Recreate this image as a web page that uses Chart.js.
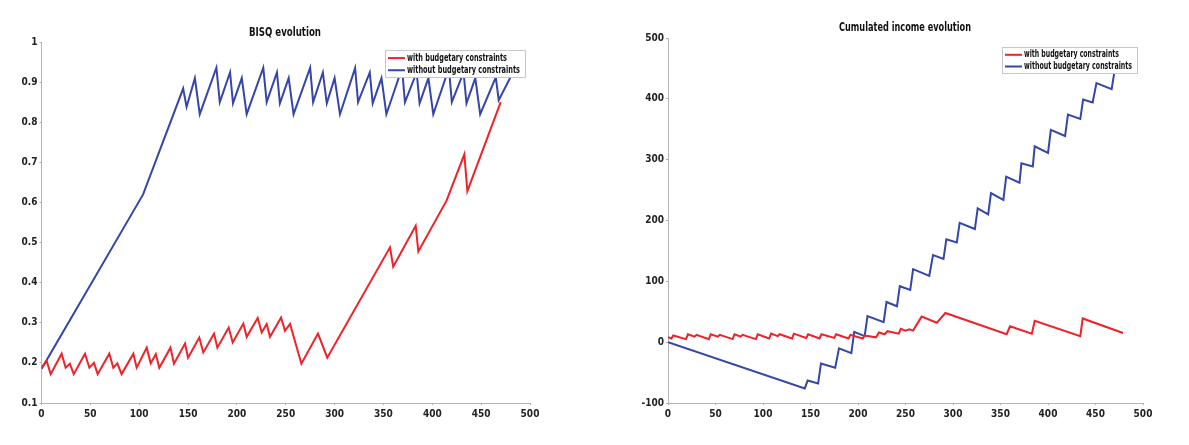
<!DOCTYPE html>
<html>
<head>
<meta charset="utf-8">
<script src="https://cdn.jsdelivr.net/npm/chart.js@4.4.1/dist/chart.umd.min.js"></script>
<style>
    html, body { margin: 0; padding: 0; background: #fff; }
    #wrap { position: relative; width: 1189px; height: 445px; overflow: hidden; }
    canvas { position: absolute; top: 0; }
    #bisq { left: 0; }
    #income { left: 600px; }
</style>
</head>
<body>
<div id="wrap">
    <canvas id="bisq" width="560" height="445"></canvas>
    <canvas id="income" width="589" height="445"></canvas>
</div>
<script>
// etiquetas
const seriesNames = ['with budgetary constraints', 'without budgetary constraints'];
const xTicks = [0, 50, 100, 150, 200, 250, 300, 350, 400, 450, 500];
const bisqTicks = [0.1, 0.2, 0.3, 0.4, 0.5, 0.6, 0.7, 0.8, 0.9, 1];
const incomeTicks = [-100, 0, 100, 200, 300, 400, 500];

// BISQ, con restricciones (rojo)
const bisqWithT = [0, 5.3, 9.4, 20.6, 24.7, 29, 33, 44.5, 49, 53.7, 57.5, 69.4, 73.5, 77.6, 82, 94, 97.4,
    107.7, 111.8, 117, 120.6, 132, 135.6, 146.9, 150, 161.5, 165.6, 176.6, 180, 191.6, 195.7, 206.6, 210,
    221.3, 225.4, 230.5, 233.9, 245.2, 249.2, 254.4, 266, 283, 292.5, 356.7, 360, 383, 385.7, 414.7, 432.8, 435.9, 470];
const bisqWithV = [0.188, 0.205, 0.172, 0.223, 0.188, 0.198, 0.172, 0.223, 0.188, 0.2, 0.172, 0.223, 0.188, 0.199, 0.172, 0.223, 0.188,
    0.238, 0.199, 0.222, 0.188, 0.238, 0.198, 0.248, 0.213, 0.263, 0.226, 0.273, 0.238, 0.288, 0.251, 0.298, 0.265,
    0.312, 0.276, 0.297, 0.265, 0.313, 0.28, 0.297, 0.198, 0.273, 0.213, 0.488, 0.44, 0.542, 0.478, 0.605, 0.72, 0.628, 0.85];

// BISQ, sin restricciones (azul)
const bisqWithoutT = [0, 104, 145, 148.5, 157, 162, 179, 182.5, 193, 196, 205, 210, 227, 230.5, 241, 244, 253, 258,
    275, 278, 288, 292, 300, 305.5, 321, 324, 336, 339, 348, 353, 369, 372, 384, 387, 396, 401,
    417, 420, 432, 435, 444, 449, 465, 468, 480];
const bisqWithoutV = [0.185, 0.62, 0.884, 0.838, 0.91, 0.82, 0.936, 0.85, 0.924, 0.847, 0.91, 0.82, 0.936, 0.85, 0.924, 0.847, 0.91, 0.82,
    0.936, 0.85, 0.924, 0.847, 0.91, 0.82, 0.935, 0.85, 0.924, 0.847, 0.91, 0.82, 0.935, 0.85, 0.924, 0.847, 0.91, 0.82,
    0.935, 0.85, 0.924, 0.847, 0.91, 0.82, 0.912, 0.855, 0.912];

// ingreso acumulado, con restricciones (rojo)
const incomeWithT = [0, 3.5, 5.5, 19, 21, 28, 30, 43, 45, 52.5, 54.5, 68, 70, 76.5, 78.5, 92.5, 94.5, 106.5, 108.5,
    115.5, 117.5, 130.5, 132.5, 145.5, 147.5, 159.5, 161.5, 175, 177, 190, 192, 205, 207, 219, 222, 228, 231,
    243, 245, 250, 254, 258, 267, 283, 292, 356.5, 360, 383, 386, 434, 436.5, 479];
const incomeWithV = [8, 6, 11, 5, 13, 9, 12, 5, 13, 9, 12, 5, 13, 9, 12, 5, 13, 6, 14,
    10, 13, 6, 14, 7, 13, 6, 13, 7, 13, 6, 12, 6, 11, 8, 16, 13, 18,
    14, 22, 19, 21, 19, 42, 32, 48, 13, 26, 14, 35, 10, 39, 15];

// ingreso acumulado, sin restricciones (azul)
const incomeWithoutT = [0, 144, 147, 158, 161, 176, 180, 193, 196, 207, 210, 227, 230, 241, 244, 255, 258, 275, 279, 290, 293,
    304, 307, 323, 326, 337, 340, 353, 356, 370, 372, 384, 386, 400, 403, 418, 421, 434, 437, 447, 451, 467, 470, 473];
const incomeWithoutV = [0, -76, -63, -68, -35, -42, -10, -18, 17, 10, 43, 33, 66, 59, 92, 86, 120, 109, 143, 137, 169,
    164, 196, 186, 220, 210, 245, 234, 272, 262, 294, 289, 322, 311, 349, 339, 374, 367, 399, 394, 426, 416, 445, 462];

const RED = '#ee2228';
const BLUE = '#3546a8';
const FONT_FAMILY = '"Liberation Sans Narrow", "DejaVu Sans Condensed", "Liberation Sans", sans-serif';

const pts = (t, v) => t.map((x, i) => ({ x: x, y: v[i] }));

// título y leyenda estilo matlab, dibujados encima de las líneas
const decorPlugin = {
    id: 'decor',
    afterDraw(chart, args, opts) {
        const ctx = chart.ctx;
        ctx.save();
        ctx.fillStyle = '#111';
        ctx.font = 'bold 12px ' + FONT_FAMILY;
        ctx.textAlign = 'center';
        ctx.textBaseline = 'middle';
        ctx.fillText(opts.title, opts.titleX, opts.titleY, opts.titleW);

        const [bx, by, bw, bh] = opts.box;
        ctx.fillStyle = '#fff';
        ctx.fillRect(bx, by, bw, bh);
        ctx.strokeStyle = '#c8c8c8';
        ctx.lineWidth = 1;
        ctx.strokeRect(bx + 0.5, by + 0.5, bw, bh);

        ctx.font = 'bold 10px ' + FONT_FAMILY;
        ctx.textAlign = 'left';
        chart.data.datasets.forEach((ds, i) => {
            const ry = by + (i === 0 ? bh * 0.3 : bh * 0.75);
            ctx.strokeStyle = ds.borderColor;
            ctx.lineWidth = 2;
            ctx.beginPath();
            ctx.moveTo(bx + 3, ry);
            ctx.lineTo(bx + 20, ry);
            ctx.stroke();
            ctx.fillStyle = '#111';
            // el texto original es estrecho, se comprime al ancho del recuadro
            ctx.fillText(ds.label, bx + 22, ry, i === 0 ? bw - 40 : bw - 27);
        });
        ctx.restore();
    },
};

function ejes(yTicks, yMin, yMax, yWidth) {
    const tickFont = { family: FONT_FAMILY, size: 10, weight: 'bold' };
    return {
        x: {
            type: 'linear',
            min: 0,
            max: 500,
            afterBuildTicks: (s) => { s.ticks = xTicks.map((v) => ({ value: v })); },
            afterFit: (s) => { s.height = 22; },
            grid: { drawOnChartArea: false, tickLength: 2, color: '#aaa' },
            border: { color: '#b4b4b4', width: 1 },
            ticks: { font: tickFont, color: '#222', padding: 3, maxRotation: 0, autoSkip: false },
        },
        y: {
            type: 'linear',
            min: yMin,
            max: yMax,
            afterBuildTicks: (s) => { s.ticks = yTicks.map((v) => ({ value: v })); },
            afterFit: (s) => { s.width = yWidth; },
            grid: { drawOnChartArea: false, tickLength: 2, color: '#aaa' },
            border: { color: '#b4b4b4', width: 1 },
            ticks: {
                font: tickFont,
                color: '#222',
                padding: 2,
                autoSkip: false,
                callback: (v) => String(Math.round(v * 10) / 10),
            },
        },
    };
}

function serie(label, color, data) {
    return {
        label: label,
        data: data,
        borderColor: color,
        backgroundColor: color,
        borderWidth: 2,
        pointRadius: 0,
        tension: 0,
        fill: false,
    };
}

new Chart(document.getElementById('bisq').getContext('2d'), {
    type: 'line',
    data: {
        datasets: [
            serie(seriesNames[0], RED, pts(bisqWithT, bisqWithV)),
            serie(seriesNames[1], BLUE, pts(bisqWithoutT, bisqWithoutV)),
        ],
    },
    options: {
        responsive: false,
        animation: false,
        layout: { padding: { top: 42, left: 0, right: 30, bottom: 20 } },
        scales: ejes(bisqTicks, 0.1, 1, 41.5),
        plugins: {
            legend: { display: false },
            tooltip: { enabled: false },
            decor: { title: 'BISQ evolution', titleX: 285, titleY: 33, titleW: 72, box: [385, 50, 140, 27] },
        },
    },
    plugins: [decorPlugin],
});

new Chart(document.getElementById('income').getContext('2d'), {
    type: 'line',
    data: {
        datasets: [
            serie(seriesNames[0], RED, pts(incomeWithT, incomeWithV)),
            serie(seriesNames[1], BLUE, pts(incomeWithoutT, incomeWithoutV)),
        ],
    },
    options: {
        responsive: false,
        animation: false,
        layout: { padding: { top: 38, left: 28, right: 46, bottom: 20 } },
        scales: ejes(incomeTicks, -100, 500, 40),
        plugins: {
            legend: { display: false },
            tooltip: { enabled: false },
            decor: { title: 'Cumulated income evolution', titleX: 305, titleY: 28, titleW: 132, box: [402, 47, 135, 26] },
        },
    },
    plugins: [decorPlugin],
});
</script>
</body>
</html>
